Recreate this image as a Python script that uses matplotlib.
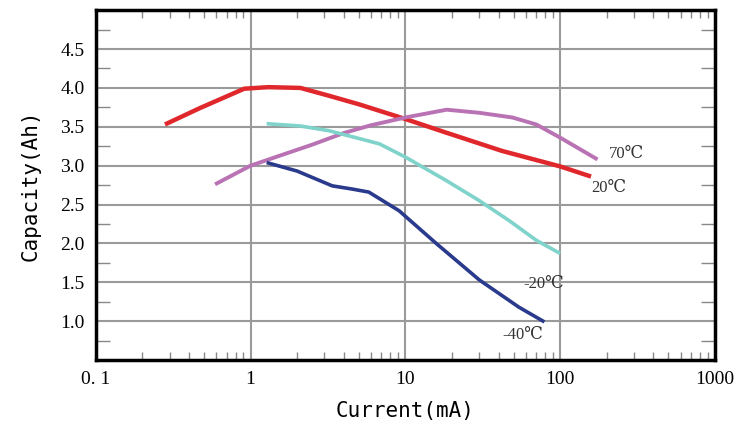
import matplotlib
matplotlib.use("Agg")
import matplotlib.pyplot as plt
import numpy as np
from matplotlib.ticker import FixedLocator, NullFormatter

# data (current in mA, capacity in Ah)
cur_20 = [0.28, 0.47, 0.91, 1.3, 2.1, 3.2, 5.0, 10, 18, 42, 100, 158]
cap_20 = [3.53, 3.74, 3.99, 4.01, 4.0, 3.90, 3.79, 3.60, 3.43, 3.19, 2.99, 2.86]

cur_70 = [0.59, 1.0, 1.5, 2.5, 4, 6, 10, 18.5, 30, 49, 70, 100, 174]
cap_70 = [2.76, 3.0, 3.12, 3.27, 3.42, 3.52, 3.62, 3.72, 3.68, 3.62, 3.53, 3.36, 3.08]

cur_m20 = [1.27, 2.1, 3.2, 5.0, 6.8, 10, 18.3, 30, 47, 70, 100]
cap_m20 = [3.54, 3.51, 3.45, 3.35, 3.28, 3.11, 2.81, 2.55, 2.29, 2.04, 1.87]

cur_m40 = [1.27, 2.0, 3.37, 4.5, 5.8, 9.1, 15.8, 30, 54, 79]
cap_m40 = [3.04, 2.93, 2.74, 2.70, 2.66, 2.42, 2.0, 1.53, 1.18, 0.99]

x_ticks = [0.1, 1, 10, 100, 1000]
x_labels = ["0. 1", "1", "10", "100", "1000"]
y_ticks = [1.0, 1.5, 2.0, 2.5, 3.0, 3.5, 4.0, 4.5]

serif = ["Liberation Serif", "DejaVu Serif"]
mono = ["DejaVu Sans Mono"]

fig = plt.figure(figsize=(7.48, 4.25), dpi=100)
ax = fig.add_axes([0.128, 0.153, 0.828, 0.823])

ax.plot(cur_20, cap_20, color="#e0282c", lw=3.2, solid_capstyle="butt")
ax.plot(cur_70, cap_70, color="#b972b4", lw=2.8, solid_capstyle="butt")
ax.plot(cur_m20, cap_m20, color="#7fd3cb", lw=2.6, solid_capstyle="butt")
ax.plot(cur_m40, cap_m40, color="#2a3a8c", lw=2.6, solid_capstyle="butt")

ax.set_xscale("log")
ax.set_xlim(0.1, 1000)
ax.set_ylim(0.5, 5.0)

# gridlines only at the major positions
for gx in [1, 10, 100]:
    ax.axvline(gx, color="#9a9a9a", lw=1.5, zorder=0)
for gy in y_ticks:
    ax.axhline(gy, color="#9a9a9a", lw=1.5, zorder=0)

ax.set_xticks(x_ticks)
ax.set_xticklabels(x_labels, fontfamily=serif, fontsize=14)
ax.set_yticks(y_ticks)
ax.set_yticklabels([f"{v:.1f}" for v in y_ticks], fontfamily=serif, fontsize=14)

minor_x = [m * 10.0 ** d for d in range(-1, 3) for m in range(2, 10)]
ax.xaxis.set_minor_locator(FixedLocator(minor_x))
ax.xaxis.set_minor_formatter(NullFormatter())
ax.yaxis.set_minor_locator(FixedLocator(np.arange(0.75, 5.0, 0.5)))

ax.tick_params(which="major", length=0, pad=8)
ax.tick_params(axis="x", which="minor", direction="in", length=6, width=1,
               color="#888888", top=True, bottom=True)
ax.tick_params(axis="y", which="minor", direction="in", length=10, width=1,
               color="#888888", left=True, right=True)

for s in ax.spines.values():
    s.set_linewidth(2.5)
    s.set_color("black")

ax.set_xlabel("Current(mA)", fontfamily=mono, fontsize=15, labelpad=9)
ax.set_ylabel("Capacity(Ah)", fontfamily=mono, fontsize=15, labelpad=14)

# curve labels
ax.text(205, 3.1, "70℃", fontfamily=serif, fontsize=12, color="#333333")
ax.text(158, 2.66, "20℃", fontfamily=serif, fontsize=12, color="#333333")
ax.text(58, 1.43, "-20℃", fontfamily=serif, fontsize=12, color="#333333")
ax.text(42, 0.92, "-40℃", fontfamily=serif, fontsize=12, color="#333333", va="top")

fig.savefig("out.png", dpi=100)
